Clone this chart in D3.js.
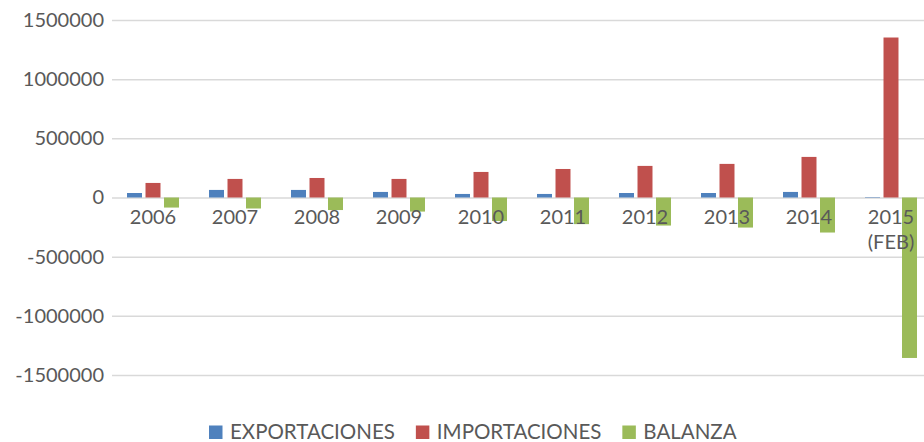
<!DOCTYPE html>
<html>
<head>
<meta charset="utf-8">
<script src="https://cdn.jsdelivr.net/npm/d3@7"></script>
<style>
  body { margin: 0; background: #fff; }
  svg { display: block; font-family: Lato, "Open Sans", sans-serif; }
</style>
</head>
<body>
<div id="vis"></div>
<script>
const categories = ["2006", "2007", "2008", "2009", "2010", "2011", "2012", "2013", "2014", "2015\n(FEB)"];
const exportaciones = [38000, 64000, 64000, 47000, 30000, 30000, 38000, 38000, 47000, 4000];
const importaciones = [123000, 157000, 165000, 157000, 216000, 241000, 267000, 284000, 343000, 1352000];
const balanza = [-85000, -93000, -106000, -119000, -199000, -225000, -237000, -254000, -296000, -1356000];
const seriesNames = ["EXPORTACIONES", "IMPORTACIONES", "BALANZA"];
const seriesColors = ["#4f81bd", "#c0504d", "#9bbb59"];
const yTicks = [-1500000, -1000000, -500000, 0, 500000, 1000000, 1500000];

const W = 924, H = 442;
const plot = { left: 112, right: 932, top: 20, bottom: 375 };

const svg = d3.select("#vis")
  .append("svg")
  .attr("width", W)
  .attr("height", H);

const y = d3.scaleLinear()
  .domain([-1500000, 1500000])
  .range([plot.bottom, plot.top]);

const x0 = d3.scaleBand()
  .domain(categories)
  .range([plot.left, plot.right])
  .paddingInner(0.366)
  .paddingOuter(0.183);

const x1 = d3.scaleBand()
  .domain(seriesNames)
  .range([0, x0.bandwidth()])
  .paddingInner(0.19);

const color = d3.scaleOrdinal().domain(seriesNames).range(seriesColors);

// gridlines + y labels
const yAxis = svg.append("g")
  .attr("transform", `translate(${plot.left},0)`)
  .call(d3.axisLeft(y)
    .tickValues(yTicks)
    .tickSize(-(plot.right - plot.left))
    .tickPadding(8)
    .tickFormat(d => String(d)));
yAxis.select(".domain").remove();
yAxis.selectAll("line").attr("stroke", "#d9d9d9").attr("stroke-width", 1.5);
yAxis.selectAll("text")
  .attr("fill", "#595959")
  .attr("font-size", 20)
  .attr("font-family", "Lato, sans-serif");

const rows = categories.map((c, i) => ({
  cat: c,
  values: [exportaciones[i], importaciones[i], balanza[i]]
}));

const groups = svg.selectAll(".grp")
  .data(rows)
  .enter()
  .append("g")
  .attr("class", "grp")
  .attr("transform", d => `translate(${x0(d.cat)},0)`);

groups.selectAll("rect")
  .data(d => d.values.map((v, j) => ({ name: seriesNames[j], v })))
  .enter()
  .append("rect")
  .attr("x", d => x1(d.name))
  .attr("width", x1.bandwidth())
  .attr("y", d => y(Math.max(0, d.v)))
  .attr("height", d => Math.abs(y(d.v) - y(0)))
  .attr("fill", d => color(d.name));

// category labels at the zero line
const labels = svg.append("g")
  .selectAll("text")
  .data(categories)
  .enter()
  .append("text")
  .attr("text-anchor", "middle")
  .attr("fill", "#595959")
  .attr("font-size", 20)
  .attr("transform", d => `translate(${x0(d) + x0.bandwidth() / 2},${y(0) + 26})`);

labels.selectAll("tspan")
  .data(d => d.split("\n"))
  .enter()
  .append("tspan")
  .attr("x", 0)
  .attr("y", (d, i) => i * 25)
  .text(d => d);

// legend
const legend = svg.append("g").attr("transform", "translate(209,439)");
let lx = 0;
seriesNames.forEach((name, i) => {
  const g = legend.append("g").attr("transform", `translate(${lx},0)`);
  g.append("rect")
    .attr("x", 0)
    .attr("y", -13.5)
    .attr("width", 13.5)
    .attr("height", 13.5)
    .attr("fill", seriesColors[i]);
  const t = g.append("text")
    .attr("x", 21)
    .attr("y", 0)
    .attr("fill", "#595959")
    .attr("font-size", 20.5)
    .text(name);
  lx += 21 + t.node().getComputedTextLength() + 21;
});
</script>
</body>
</html>
